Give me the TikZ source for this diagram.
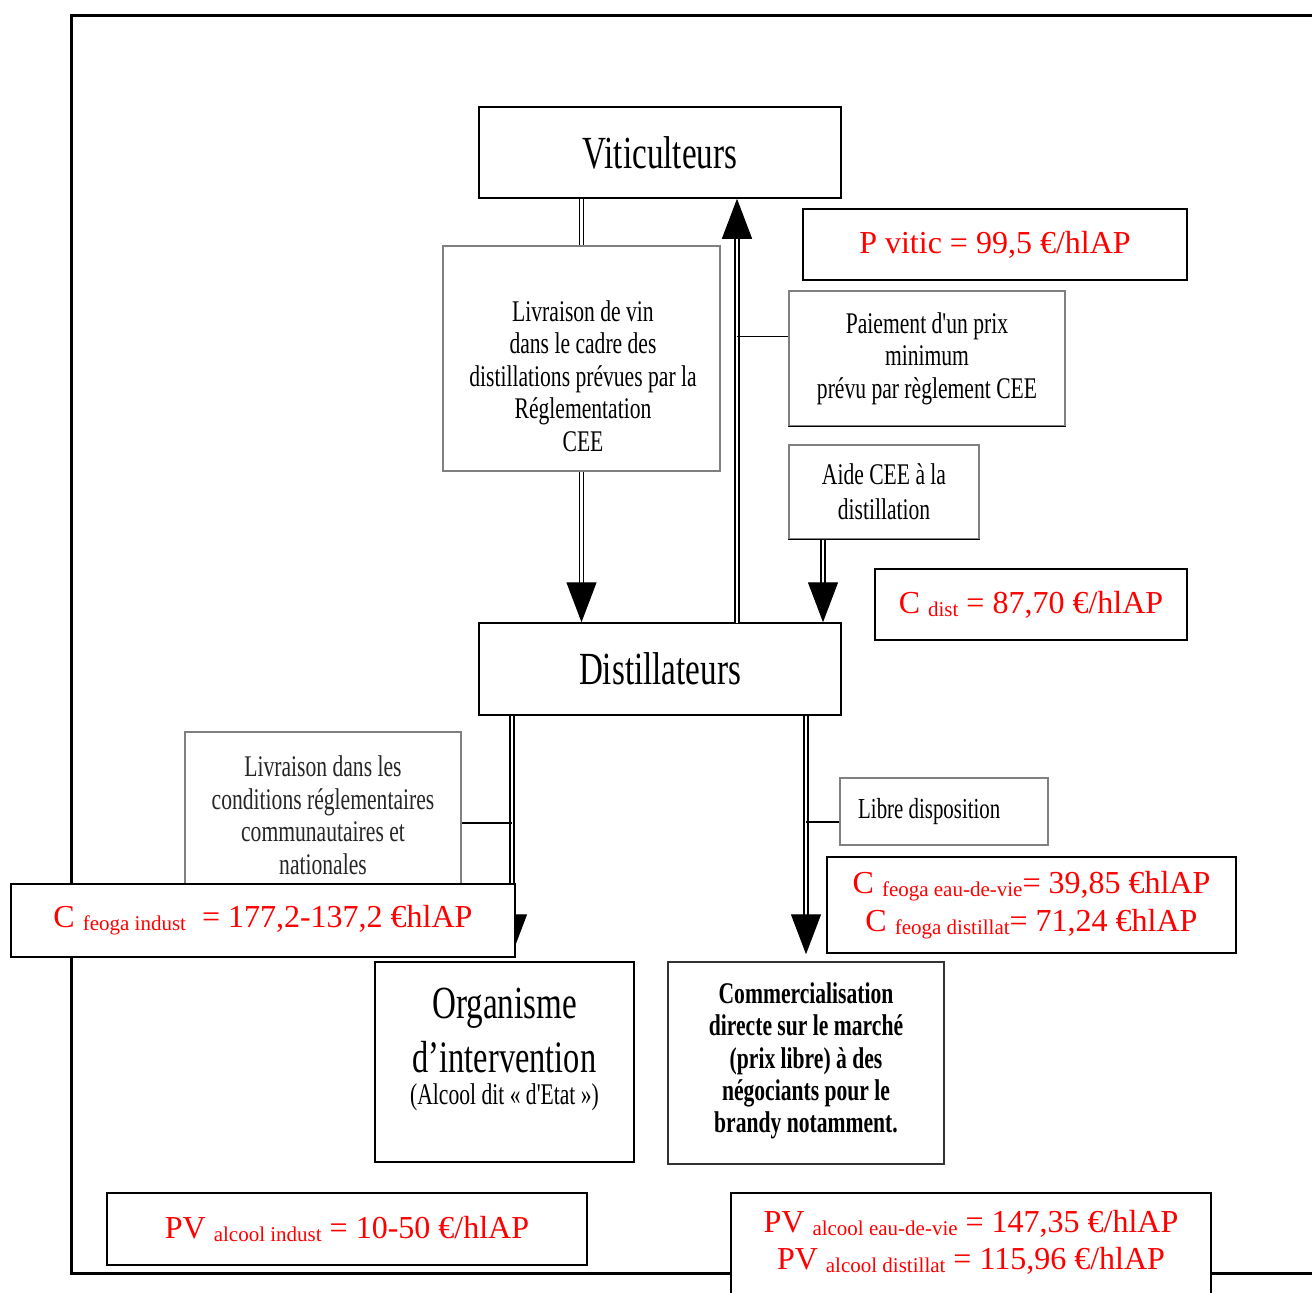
\documentclass[tikz,border=0pt]{standalone}
\usepackage{fontspec}
\setmainfont{Liberation Serif}
\newfontfamily\cond[FakeStretch=0.72]{Liberation Serif}
\usetikzlibrary{arrows.meta,calc}
\newcommand{\lowsub}[1]{\raisebox{-3pt}{\fontsize{21}{21}\selectfont #1}}
\begin{document}
\begin{tikzpicture}[x=1pt,y=-1pt,
  box/.style={draw=black,line width=1.5pt,fill=white,inner sep=0pt,rectangle},
  gbox/.style={draw=black!50,line width=1.2pt,fill=white,inner sep=0pt,rectangle},
  rbox/.style={draw=black,line width=2pt,fill=white,inner sep=0pt,rectangle,text=red,align=center,font=\fontsize{32}{38}\selectfont},
  rtext/.style={text=red,align=center,inner sep=0pt,font=\fontsize{32}{37}\selectfont},
  btext/.style={align=center,inner sep=0pt,font=\cond\fontsize{30}{32.5}\selectfont},
  dbl/.style={draw=black,line width=1.3pt,double=white,double distance=2.6pt},
  tip/.style={-{Triangle[width=30pt,length=40pt]}},
  thinl/.style={draw=black,line width=1.5pt}
]
\useasboundingbox (0,0) rectangle (1312,1293);
% outer frame
\draw[line width=3pt] (1312,15) -- (71,15) -- (71,1273) -- (1312,1273);

% main boxes
\node[box,minimum width=362pt,minimum height=91pt,font=\cond\fontsize{46}{50}\selectfont] (vit) at (660,152.5) {Viticulteurs};
\node[box,minimum width=362pt,minimum height=92pt,font=\cond\fontsize{46}{50}\selectfont] (dist) at (660,669) {Distillateurs};

\node[gbox,minimum width=277pt,minimum height=225pt] (liv1) at (581.5,358.5) {};
\node[btext] (liv1t) at (583,376) {Livraison de vin\\dans le cadre des\\distillations prévues par la\\Réglementation\\CEE};

\node[gbox,minimum width=276pt,minimum height=135pt,btext] (paie) at (927,358.5) {Paiement d'un prix\\minimum\\prévu par règlement CEE};
\draw[thinl] (paie.south west) -- (paie.south east);
\node[gbox,minimum width=190pt,minimum height=94pt,btext,font=\cond\fontsize{30}{35}\selectfont] (aide) at (884,492) {Aide CEE à la\\distillation};
\draw[thinl] (aide.south west) -- (aide.south east);

\node[gbox,minimum width=276pt,minimum height=168pt] (liv2) at (323,816) {};
\node[btext,text=black!85] (liv2t) at (323,815) {Livraison dans les\\conditions réglementaires\\communautaires et\\nationales};

\node[gbox,minimum width=208pt,minimum height=67pt] (libre) at (944,811.5) {};
\node[btext,font=\cond\fontsize{29}{32}\selectfont,anchor=west] (libret) at (858,812) {Libre disposition};

\node[box,minimum width=259pt,minimum height=200pt] (org) at (504.5,1062) {};
\node[btext,font=\cond\fontsize{46}{50}\selectfont] (orgt1) at (504.5,1008) {Organisme};
\node[btext,font=\cond\fontsize{45}{50}\selectfont] (orgt2) at (504.5,1057) {d’intervention};
\node[btext] (orgt3) at (504.5,1097) {(Alcool dit « d'Etat »)};

\node[box,draw=black!80,minimum width=276pt,minimum height=202pt] (comm) at (806,1063) {};
\node[btext,font=\cond\bfseries\fontsize{30}{32.3}\selectfont] (commt) at (806,1061) {Commercialisation\\directe sur le marché\\(prix libre) à des\\négociants pour le\\brandy notamment.};

% connectors
\coordinate (upb) at (737,623);
\coordinate (ax) at (823,0);
\coordinate (lx) at (512,0);
\coordinate (rx) at (806,0);
\coordinate (y823) at (0,823);
\coordinate (y822) at (0,822);
\draw[dbl] (vit.south -| liv1.north) -- (liv1.north);
\draw[dbl,tip] (liv1.south) -- (liv1.south |- dist.north);
\draw[dbl,tip] (upb) -- (upb |- vit.south);
\coordinate (pj) at ($(paie.north west)!0.34!(paie.south west)$);
\draw[thinl] (pj -| upb) -- (pj);
\draw[dbl,tip] (aide.south -| ax) -- (dist.north -| ax);
\draw[dbl,tip,shorten >=7pt] (dist.south -| lx) -- (org.north -| lx);
\draw[thinl] (liv2.east |- y823) -- (lx |- y823);
\draw[dbl,tip,shorten >=7pt] (dist.south -| rx) -- (comm.north -| rx);
\draw[thinl] (rx |- y822) -- (libre.west |- y822);

% red value boxes
\node[rbox,minimum width=384pt,minimum height=71pt] (pvitic) at (995,244.5) {P vitic = 99,5 €/hlAP};
\node[rbox,minimum width=312pt,minimum height=71pt] (cdist) at (1031,604.5) {C \lowsub{dist} = 87,70 €/hlAP};
\node[rbox,minimum width=504pt,minimum height=73pt] (cfi) at (263,920.5) {C \lowsub{feoga indust} \ = 177,2-137,2 €hlAP};
\node[rbox,minimum width=409pt,minimum height=96pt] (cfe) at (1031.5,905) {C \lowsub{feoga eau-de-vie}= 39,85 €hlAP\\C \lowsub{feoga distillat}= 71,24 €hlAP};
\node[rbox,minimum width=480pt,minimum height=72pt] (pvi) at (347,1229) {PV \lowsub{alcool indust} = 10-50 €/hlAP};
\node[rbox,minimum width=480pt,minimum height=130pt] (pve) at (971,1258) {};
\node[rtext] (pvet) at (971,1242) {PV \lowsub{alcool eau-de-vie} = 147,35 €/hlAP\\PV \lowsub{alcool distillat} = 115,96 €/hlAP};
\end{tikzpicture}
\end{document}
